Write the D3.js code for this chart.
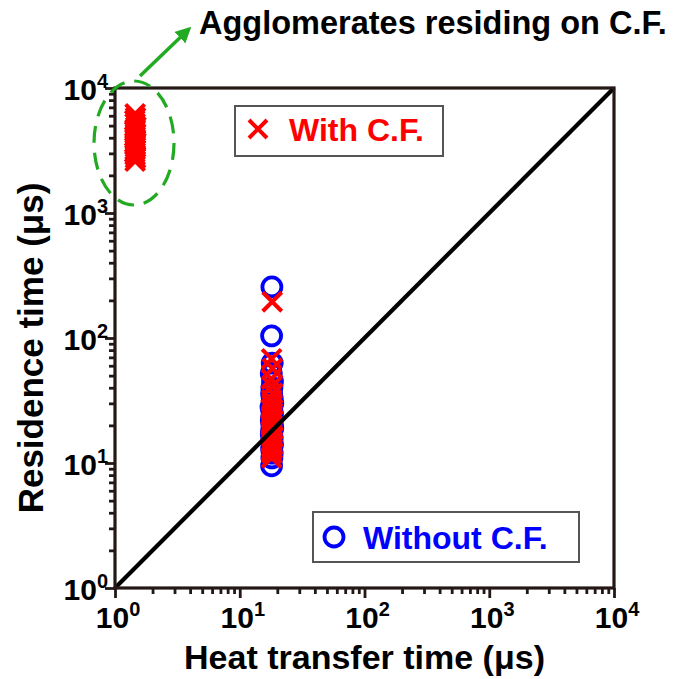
<!DOCTYPE html>
<html>
<head>
<meta charset="utf-8">
<script src="https://cdn.jsdelivr.net/npm/d3@7"></script>
<style>
  body { margin: 0; background: #fff; }
  text { font-family: "Liberation Sans", Arial, sans-serif; font-weight: bold; }
</style>
</head>
<body>
<svg id="chart" width="684" height="679"></svg>
<script>
// Decade exponents shown on both log axes
const decades = [0, 1, 2, 3, 4];

// With C.F. — agglomerates residing on the fibre (upper-left cluster) and passing particles
const withCF_x = [1.45, 1.46, 1.44, 1.45, 1.47, 1.45, 1.44, 1.46, 1.45, 1.45, 1.46, 1.44, 1.45, 1.46, 1.45, 1.44, 1.45, 1.46, 1.45,
                  18.2, 18.0, 18.3, 17.9, 18.1, 18.4, 18.0, 18.2, 17.8, 18.3, 18.1, 18.0, 18.4, 17.9, 18.2, 18.1, 18.3, 17.8, 18.0, 18.2, 18.4, 17.9, 18.1, 18.3, 18.0, 18.2, 17.9, 18.1, 18.0];
const withCF_y = [6200, 5800, 5500, 5200, 4900, 4700, 4500, 4300, 4100, 3950, 3800, 3650, 3500, 3350, 3200, 3050, 2900, 2750, 2600,
                  195, 68, 57, 47, 41, 36, 32, 29, 27, 25, 24, 23, 22, 21, 20, 19, 18.5, 18, 17, 16.5, 16, 15, 14.5, 14, 13.5, 13, 12.5, 12, 11];

// Without C.F.
const withoutCF_x = [18.1, 18.0, 18.2, 17.9, 18.3, 18.1, 18.0, 18.2, 18.4, 17.8, 18.1, 18.3, 18.0, 17.9, 18.2, 18.1, 18.4, 18.0, 17.9, 18.2, 18.1, 18.3, 18.0, 18.2, 18.1, 18.0];
const withoutCF_y = [256, 104, 63, 52, 45, 40, 36, 33, 30, 28, 26, 24.5, 23, 22, 21, 20, 19, 18, 17, 16, 15, 14, 13, 12, 11, 9.5];

// Reference line: heat transfer time = residence time
const diagonal = [1, 10000];

const legendLabels = ["With C.F.", "Without C.F."];
const annotation = "Agglomerates residing on C.F.";
const xTitle = "Heat transfer time (\u03bcs)";
const yTitle = "Residence time (\u03bcs)";

const svg = d3.select("#chart");
const m = { left: 115, top: 88, right: 70, bottom: 91 };
const W = 684 - m.left - m.right, H = 679 - m.top - m.bottom;
const frameColor = "#231815";
const green = "#22aa22";

const x = d3.scaleLog().domain([1, 10000]).range([m.left, m.left + W]);
const y = d3.scaleLog().domain([1, 10000]).range([m.top + H, m.top]);

const majors = decades.map(d => Math.pow(10, d));
const minors = [];
decades.slice(0, -1).forEach(d => { for (let k = 2; k <= 9; k++) minors.push(k * Math.pow(10, d)); });

// Axes: major and minor ticks, outward
function styleAxis(g) {
  g.select(".domain").remove();
  g.selectAll("line").attr("stroke", frameColor).attr("stroke-width", 2.8);
  g.selectAll("text").remove();
}
svg.append("g").attr("transform", `translate(0,${m.top + H})`)
  .call(d3.axisBottom(x).tickValues(majors).tickSize(10).tickFormat(""))
  .call(styleAxis);
svg.append("g").attr("transform", `translate(0,${m.top + H})`)
  .call(d3.axisBottom(x).tickValues(minors).tickSize(6).tickFormat(""))
  .call(styleAxis);
svg.append("g").attr("transform", `translate(${m.left},0)`)
  .call(d3.axisLeft(y).tickValues(majors).tickSize(10).tickFormat(""))
  .call(styleAxis);
svg.append("g").attr("transform", `translate(${m.left},0)`)
  .call(d3.axisLeft(y).tickValues(minors).tickSize(6).tickFormat(""))
  .call(styleAxis);

// Tick labels 10^n
function powLabel(sel) {
  sel.append("tspan").text("10");
  sel.append("tspan").attr("dy", -12).attr("font-size", 20).text(d => d);
}
svg.append("g").selectAll("text").data(decades).join("text")
  .attr("x", d => x(Math.pow(10, d)) + 3)
  .attr("y", m.top + H + 40)
  .attr("text-anchor", "middle")
  .attr("font-size", 30)
  .call(powLabel);
svg.append("g").selectAll("text").data(decades).join("text")
  .attr("x", m.left - 7)
  .attr("y", d => y(Math.pow(10, d)) + 12)
  .attr("text-anchor", "end")
  .attr("font-size", 30)
  .call(powLabel);

// Axis titles
svg.append("text").attr("x", m.left + W / 2).attr("y", 669)
  .attr("text-anchor", "middle").attr("font-size", 34).text(xTitle);
svg.append("text").attr("transform", `translate(43,${m.top + H / 2 + 10}) rotate(-90)`)
  .attr("text-anchor", "middle").attr("font-size", 35).text(yTitle);

// Markers
const crossPath = s => `M${-s},${-s}L${s},${s}M${-s},${s}L${s},${-s}`;
const plot = svg.append("g");
plot.append("g").selectAll("circle").data(withoutCF_x.map((v, i) => [v, withoutCF_y[i]])).join("circle")
  .attr("cx", d => x(d[0])).attr("cy", d => y(d[1])).attr("r", 9.5)
  .attr("fill", "none").attr("stroke", "#0000ff").attr("stroke-width", 3.8);
plot.append("g").selectAll("path").data(withCF_x.map((v, i) => [v, withCF_y[i]])).join("path")
  .attr("transform", d => `translate(${x(d[0])},${y(d[1])})`)
  .attr("d", crossPath(9.5))
  .attr("fill", "none").attr("stroke", "#ff0000").attr("stroke-width", 4);

// y = x line
svg.append("line")
  .attr("x1", x(diagonal[0])).attr("y1", y(diagonal[0]))
  .attr("x2", x(diagonal[1])).attr("y2", y(diagonal[1]))
  .attr("stroke", "#000").attr("stroke-width", 4.2);

// Frame
svg.append("rect").attr("x", m.left).attr("y", m.top).attr("width", W).attr("height", H)
  .attr("fill", "none").attr("stroke", frameColor).attr("stroke-width", 3.2);

// Legend boxes
const lg1 = svg.append("g");
lg1.append("rect").attr("x", 235).attr("y", 106).attr("width", 208).attr("height", 50)
  .attr("fill", "#fff").attr("stroke", "#555").attr("stroke-width", 2);
lg1.append("path").attr("transform", "translate(258,129)").attr("d", crossPath(9))
  .attr("stroke", "#ff0000").attr("stroke-width", 4);
lg1.append("text").attr("x", 289).attr("y", 141).attr("font-size", 32).attr("fill", "#ff0000").text(legendLabels[0]);

const lg2 = svg.append("g");
lg2.append("rect").attr("x", 313).attr("y", 512).attr("width", 266).attr("height", 50)
  .attr("fill", "#fff").attr("stroke", "#555").attr("stroke-width", 2);
lg2.append("circle").attr("cx", 334).attr("cy", 537).attr("r", 9.5)
  .attr("fill", "none").attr("stroke", "#0000ff").attr("stroke-width", 3.8);
lg2.append("text").attr("x", 363).attr("y", 549).attr("font-size", 32).attr("fill", "#0000ff").text(legendLabels[1]);

// Annotation: dashed ellipse around the residing agglomerates and arrow to the note
svg.append("ellipse").attr("cx", 134).attr("cy", 143).attr("rx", 40).attr("ry", 62)
  .attr("fill", "none").attr("stroke", green).attr("stroke-width", 3.2).attr("stroke-dasharray", "17,10");
svg.append("defs").append("marker").attr("id", "ah").attr("viewBox", "0 0 10 10")
  .attr("refX", 8).attr("refY", 5).attr("markerWidth", 4.5).attr("markerHeight", 4.5)
  .attr("orient", "auto").append("path").attr("d", "M0,0L10,5L0,10z").attr("fill", green);
svg.append("line").attr("x1", 140).attr("y1", 76).attr("x2", 189).attr("y2", 29)
  .attr("stroke", green).attr("stroke-width", 3.5).attr("marker-end", "url(#ah)");
svg.append("text").attr("x", 199).attr("y", 34).attr("font-size", 32.5).text(annotation);
</script>
</body>
</html>
